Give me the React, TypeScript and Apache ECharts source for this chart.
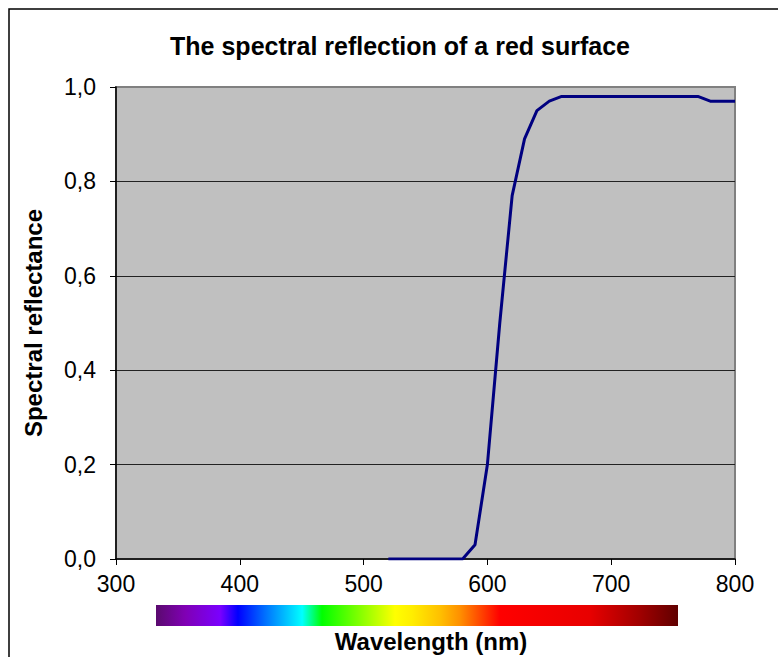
import React, { useEffect, useRef } from "react";
import * as echarts from "echarts";

const wavelengths: number[] = [
  520, 530, 540, 550, 560, 570, 580, 590, 600, 610, 620, 630, 640, 650, 660,
  670, 680, 690, 700, 710, 720, 730, 740, 750, 760, 770, 780, 790, 800,
];
const reflectance: number[] = [
  0, 0, 0, 0, 0, 0, 0, 0.03, 0.2, 0.5, 0.77, 0.89, 0.95, 0.97, 0.98,
  0.98, 0.98, 0.98, 0.98, 0.98, 0.98, 0.98, 0.98, 0.98, 0.98, 0.98, 0.97, 0.97, 0.97,
];
const xTicks = { min: 300, max: 800, interval: 100 };
const yTicks = { min: 0, max: 1, interval: 0.2 };
const titleText = "The spectral reflection of a red surface";
const xTitle = "Wavelength (nm)";
const yTitle = "Spectral reflectance";

const spectrumStops: [number, string][] = [
  [0, "#5a0a6e"],
  [0.056, "#8000b4"],
  [0.123, "#7a00ff"],
  [0.157, "#0000ff"],
  [0.209, "#0070ff"],
  [0.28, "#00ffff"],
  [0.318, "#00ff00"],
  [0.458, "#ffff00"],
  [0.49, "#ffee00"],
  [0.544, "#ffc000"],
  [0.582, "#ff9000"],
  [0.659, "#ff0000"],
  [0.831, "#e80000"],
  [0.927, "#a00000"],
  [1, "#600000"],
];

const FONT = "'Liberation Sans', Arial, sans-serif";

export default function App() {
  const ref = useRef<HTMLDivElement>(null);
  useEffect(() => {
    if (!ref.current) return;
    const chart = echarts.init(ref.current, null, { renderer: "svg" });
    const data = wavelengths.map((w, i) => [w, reflectance[i]]);
    chart.setOption({
      animation: false,
      backgroundColor: "#ffffff",
      textStyle: { fontFamily: FONT },
      grid: {
        left: 116,
        top: 87,
        right: 43,
        bottom: 98,
        show: true,
        backgroundColor: "#c0c0c0",
        borderColor: "#808080",
        borderWidth: 2,
      },
      xAxis: {
        type: "value",
        min: xTicks.min,
        max: xTicks.max,
        interval: xTicks.interval,
        axisLine: { show: true, lineStyle: { color: "#000", width: 1.5 } },
        axisTick: { show: true, length: 6, lineStyle: { color: "#000", width: 1 } },
        axisLabel: { fontSize: 23, color: "#000", margin: 13, fontFamily: FONT },
        splitLine: { show: false },
      },
      yAxis: {
        type: "value",
        min: yTicks.min,
        max: yTicks.max,
        interval: yTicks.interval,
        axisLine: { show: true, lineStyle: { color: "#000", width: 1.5 } },
        axisTick: { show: true, length: 6, lineStyle: { color: "#000", width: 1 } },
        axisLabel: {
          fontSize: 23,
          color: "#000",
          margin: 20,
          fontFamily: FONT,
          formatter: (v: number) => v.toFixed(1).replace(".", ","),
        },
        splitLine: {
          show: true,
          showMinLine: false,
          showMaxLine: false,
          lineStyle: { color: "#222", width: 1 },
        },
      },
      series: [
        {
          type: "line",
          data,
          showSymbol: false,
          symbol: "none",
          lineStyle: { color: "#000080", width: 3 },
          z: 5,
        },
      ],
      graphic: [
        {
          type: "rect",
          shape: { x: 9, y: 9, width: 800, height: 700 },
          style: { fill: "none", stroke: "#000", lineWidth: 1.5 },
          z: -1,
          silent: true,
        },
        {
          type: "text",
          x: 400,
          y: 46,
          style: {
            text: titleText,
            font: `bold 25px ${FONT}`,
            fill: "#000",
            align: "center",
            verticalAlign: "middle",
          },
        },
        {
          type: "text",
          x: 33,
          y: 323,
          rotation: Math.PI / 2,
          style: {
            text: yTitle,
            font: `bold 24px ${FONT}`,
            fill: "#000",
            align: "center",
            verticalAlign: "middle",
          },
        },
        {
          type: "rect",
          shape: { x: 156, y: 605, width: 522, height: 21 },
          style: {
            fill: new echarts.graphic.LinearGradient(
              0, 0, 1, 0,
              spectrumStops.map(([offset, color]) => ({ offset, color }))
            ),
          },
        },
        {
          type: "text",
          x: 431,
          y: 641,
          style: {
            text: xTitle,
            font: `bold 24px ${FONT}`,
            fill: "#000",
            align: "center",
            verticalAlign: "middle",
          },
        },
      ],
    });
    return () => chart.dispose();
  }, []);
  return (
    <div
      ref={ref}
      style={{ position: "absolute", left: 0, top: 0, width: 778, height: 657 }}
    />
  );
}
